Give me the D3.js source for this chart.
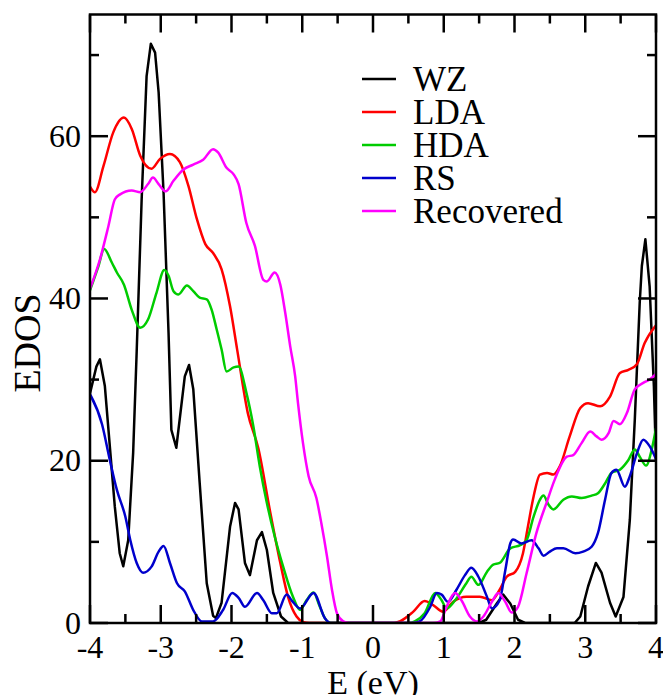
<!DOCTYPE html>
<html>
<head>
<meta charset="utf-8">
<script src="https://cdn.jsdelivr.net/npm/d3@7"></script>
<style>
  body { margin: 0; background: #fff; }
  svg { display: block; }
  text { font-family: "Liberation Serif", "Times New Roman", Times, "DejaVu Serif", serif; fill: #000; }
  .frame { fill: none; stroke: #000; stroke-width: 2.5; }
  .tick-line { stroke: #000; stroke-width: 2.5; }
  .curve { fill: none; stroke-width: 2.5; stroke-linejoin: round; }
</style>
</head>
<body>
<svg id="chart" width="663" height="695"></svg>
<script>
// energy-resolved DOS, pairs of [E (eV), EDOS]
const wz = [[-4.0,28.3],[-3.91,31.6],[-3.86,32.5],[-3.79,29.2],[-3.72,21.8],[-3.65,14.4],[-3.58,8.6],[-3.53,7.0],
  [-3.46,10.2],[-3.39,21],[-3.34,33.5],[-3.27,52.2],[-3.2,67.4],[-3.14,71.4],[-3.08,70.3],[-3.03,65.4],[-2.96,53],
  [-2.89,35.8],[-2.85,23.8],[-2.78,21.6],[-2.66,30.4],[-2.6,31.8],[-2.54,28.8],[-2.45,17.3],[-2.35,4.9],[-2.26,0.9],
  [-2.22,0.6],[-2.14,2.5],[-2.02,11.9],[-1.95,14.8],[-1.9,14],[-1.81,7.4],[-1.74,5.9],[-1.64,10.2],[-1.57,11.2],
  [-1.5,9],[-1.41,3.7],[-1.3,0.8],[-1.2,0],[1.5,0],[1.6,0.4],[1.75,2.4],[1.84,3.5],[1.94,2.4],[2.05,0.4],[2.15,0],
  [2.85,0],[2.93,0.8],[3.04,4.5],[3.15,7.4],[3.23,6.2],[3.35,2.5],[3.43,0.8],[3.54,3.2],[3.63,12.7],[3.70,25],
  [3.77,39.5],[3.8,44],[3.85,47.3],[3.91,41.5],[3.97,29.2],[4.0,20.1]];

const lda = [[-4.0,53.8],[-3.93,53.1],[-3.81,56.3],[-3.67,60.5],[-3.52,62.3],[-3.41,60.9],[-3.29,57.6],[-3.13,56],
  [-3.01,57.2],[-2.87,57.8],[-2.73,56.8],[-2.61,53.9],[-2.49,49.8],[-2.37,46.7],[-2.26,45.6],[-2.14,43.6],[-2.02,39],
  [-1.92,33.7],[-1.77,25.9],[-1.62,21.5],[-1.46,14],[-1.31,7.4],[-1.2,3.2],[-1.08,0.8],[-0.98,0.1],[-0.9,0],[0.3,0],
  [0.38,0.2],[0.57,1.4],[0.73,2.7],[0.85,2.2],[0.99,1.4],[1.13,2.6],[1.32,3.25],[1.51,3.25],[1.68,2.8],[1.79,4.1],
  [1.89,5.7],[2.01,6.3],[2.12,8.6],[2.19,11.9],[2.27,15.6],[2.36,18.3],[2.46,18.5],[2.55,18.3],[2.64,19.3],[2.78,23],
  [2.93,26.5],[3.04,27.1],[3.21,26.7],[3.35,27.9],[3.49,30.8],[3.61,31.2],[3.73,31.9],[3.84,34.5],[4.0,36.7]];

const hda = [[-4.0,41],[-3.88,44],[-3.8,46.1],[-3.69,44.4],[-3.62,43.2],[-3.52,41.7],[-3.41,38.6],[-3.29,36.4],
  [-3.18,37.4],[-3.06,40.7],[-2.95,43.5],[-2.89,42.8],[-2.82,40.9],[-2.75,40.5],[-2.63,41.6],[-2.54,40.9],[-2.45,40.1],
  [-2.35,39.9],[-2.28,38.6],[-2.21,36.2],[-2.14,33.7],[-2.07,31],[-1.97,31.5],[-1.9,31.6],[-1.79,28.4],[-1.69,24.2],
  [-1.6,19.3],[-1.5,14.8],[-1.39,10.7],[-1.27,6.95],[-1.13,3.2],[-1.03,1.6],[-0.94,2.8],[-0.84,3.75],[-0.76,2.2],
  [-0.68,0.6],[-0.6,0],[0.5,0],[0.59,0.2],[0.73,1.2],[0.88,3.7],[0.97,2.8],[1.04,1.8],[1.16,2.8],[1.32,4.9],[1.39,5.7],
  [1.49,4.7],[1.61,6.3],[1.7,7.2],[1.79,7.4],[1.94,9.2],[2.08,9.6],[2.17,10.2],[2.27,13.1],[2.36,15.2],[2.41,15.7],
  [2.48,14.6],[2.55,14],[2.69,15.2],[2.81,15.6],[2.95,15.4],[3.09,15.7],[3.18,16],[3.28,17.2],[3.37,18.5],[3.49,18.9],
  [3.61,20.1],[3.70,21.4],[3.77,20.5],[3.86,19.4],[3.94,21.4],[4.0,24]];

const rs = [[-4.0,28.2],[-3.83,24.5],[-3.72,20.1],[-3.62,16.4],[-3.5,13.1],[-3.43,10.2],[-3.34,7.4],[-3.25,6.2],
  [-3.13,6.95],[-3.03,8.8],[-2.96,9.5],[-2.87,7.4],[-2.77,4.9],[-2.66,3.9],[-2.54,1.6],[-2.42,0.2],[-2.26,0.2],
  [-2.12,1.6],[-1.99,3.7],[-1.9,3.1],[-1.81,2],[-1.64,3.7],[-1.55,2.8],[-1.43,1.2],[-1.36,1.2],[-1.22,3.5],[-1.15,2.8],
  [-1.03,1.8],[-0.84,3.7],[-0.68,0.6],[-0.6,0],[0.55,0],[0.66,0.2],[0.81,2],[0.9,3.7],[0.97,3.5],[1.06,2.6],[1.18,4.1],
  [1.3,5.9],[1.39,6.8],[1.49,5.7],[1.61,3.25],[1.68,1.8],[1.79,2.8],[1.87,6.5],[1.94,9.8],[1.98,10.3],[2.1,9.8],
  [2.24,10.2],[2.34,9.2],[2.41,8.3],[2.5,8.8],[2.6,9.2],[2.69,9.2],[2.86,8.6],[2.97,8.8],[3.09,9.4],[3.18,11.1],
  [3.28,15.2],[3.37,18.5],[3.44,18.9],[3.56,16.8],[3.63,18.1],[3.73,20.9],[3.82,22.6],[3.91,21.8],[4.0,20.2]];

const recovered = [[-4.0,41.2],[-3.86,44.8],[-3.74,48.9],[-3.65,52.2],[-3.58,52.8],[-3.41,53.3],[-3.29,53.1],
  [-3.18,54.1],[-3.11,54.9],[-3.03,54.1],[-2.93,53.2],[-2.82,54.5],[-2.68,55.9],[-2.54,56.5],[-2.4,57.1],[-2.26,58.4],
  [-2.19,58],[-2.07,56.1],[-1.97,55.3],[-1.9,54.1],[-1.79,49.3],[-1.67,46.5],[-1.55,42.3],[-1.5,42.1],[-1.39,43.2],
  [-1.31,41.7],[-1.24,38.2],[-1.17,34.1],[-1.1,30.4],[-1.06,27.1],[-0.99,22.2],[-0.91,18.1],[-0.8,15.4],[-0.73,12.3],
  [-0.65,8.2],[-0.58,4.1],[-0.51,1.2],[-0.42,0.2],[-0.35,0],[0.85,0],[0.95,0.2],[1.04,2],[1.16,3.7],[1.25,2.8],
  [1.37,0.8],[1.47,0.2],[1.56,0.8],[1.68,2.6],[1.77,3.7],[1.87,2.6],[1.96,1.3],[2.05,2],[2.17,6.1],[2.31,11.1],
  [2.46,15],[2.57,17.7],[2.74,20.5],[2.83,20.7],[2.95,22.2],[3.07,23.6],[3.16,23],[3.23,22.6],[3.33,23.4],[3.4,24.9],
  [3.49,24.5],[3.59,25.9],[3.70,28.8],[3.82,29.6],[3.91,30],[4.0,30.7]];

const seriesNames = ["WZ", "LDA", "HDA", "RS", "Recovered"];
const seriesColors = ["#000000", "#ff0000", "#00cc00", "#0000cc", "#ff00ff"];
const seriesData = [wz, lda, hda, rs, recovered];

const xTicks = [-4, -3, -2, -1, 0, 1, 2, 3, 4];
const yTicks = [0, 20, 40, 60];

const SERIF = "'Liberation Serif', 'Times New Roman', Times, 'DejaVu Serif', serif";
const svg = d3.select("#chart");
const plotL = 90, plotR = 656, plotT = 14.5, plotB = 623;

const x = d3.scaleLinear().domain([-4, 4]).range([plotL, plotR]);
const y = d3.scaleLinear().domain([0, 75]).range([plotB, plotT]);

svg.append("clipPath").attr("id", "clip")
  .append("rect").attr("x", plotL).attr("y", plotT)
  .attr("width", plotR - plotL).attr("height", plotB - plotT);

// curves
const plot = svg.append("g").attr("clip-path", "url(#clip)");
seriesData.forEach((d, i) => {
  const line = d3.line()
    .x(p => x(p[0])).y(p => y(p[1]))
    .curve(i === 0 ? d3.curveLinear : d3.curveMonotoneX);
  plot.append("path").attr("class", "curve")
    .attr("stroke", seriesColors[i])
    .attr("d", line(d));
});

// ticks, inward on all four sides
const MAJ = 18, MIN = 9;
const ticks = svg.append("g");
d3.range(-4, 4.01, 0.5).forEach(v => {
  const len = Number.isInteger(v) ? MAJ : MIN;
  ticks.append("line").attr("class", "tick-line")
    .attr("x1", x(v)).attr("x2", x(v)).attr("y1", plotB).attr("y2", plotB - len);
  ticks.append("line").attr("class", "tick-line")
    .attr("x1", x(v)).attr("x2", x(v)).attr("y1", plotT).attr("y2", plotT + len);
});
d3.range(0, 75, 10).forEach(v => {
  const len = v % 20 === 0 ? MAJ : MIN;
  ticks.append("line").attr("class", "tick-line")
    .attr("y1", y(v)).attr("y2", y(v)).attr("x1", plotL).attr("x2", plotL + len);
  ticks.append("line").attr("class", "tick-line")
    .attr("y1", y(v)).attr("y2", y(v)).attr("x1", plotR).attr("x2", plotR - len);
});

svg.append("rect").attr("class", "frame")
  .attr("x", plotL).attr("y", plotT)
  .attr("width", plotR - plotL).attr("height", plotB - plotT);

// tick labels
svg.append("g").selectAll("text").data(xTicks).enter().append("text")
  .attr("x", d => x(d)).attr("y", 658)
  .attr("text-anchor", "middle").attr("font-family", SERIF).attr("font-size", 32)
  .text(d => d);
svg.append("g").selectAll("text").data(yTicks).enter().append("text")
  .attr("x", 81).attr("y", d => y(d) + 10.5)
  .attr("text-anchor", "end").attr("font-family", SERIF).attr("font-size", 32)
  .text(d => d);

// axis titles
svg.append("text").attr("x", x(0)).attr("y", 694)
  .attr("text-anchor", "middle").attr("font-family", SERIF).attr("font-size", 34).text("E (eV)");
svg.append("text").attr("transform", "translate(40,343) rotate(-90)")
  .attr("text-anchor", "middle").attr("font-family", SERIF).attr("font-size", 38).text("EDOS");

// legend
const legend = svg.append("g");
seriesNames.forEach((name, i) => {
  const ly = 79 + i * 33;
  legend.append("line").attr("x1", 362).attr("x2", 396).attr("y1", ly).attr("y2", ly)
    .attr("stroke", seriesColors[i]).attr("stroke-width", 2.5);
  legend.append("text").attr("x", 413).attr("y", ly + 12)
    .attr("font-family", SERIF).attr("font-size", 35).text(name);
});
</script>
</body>
</html>
